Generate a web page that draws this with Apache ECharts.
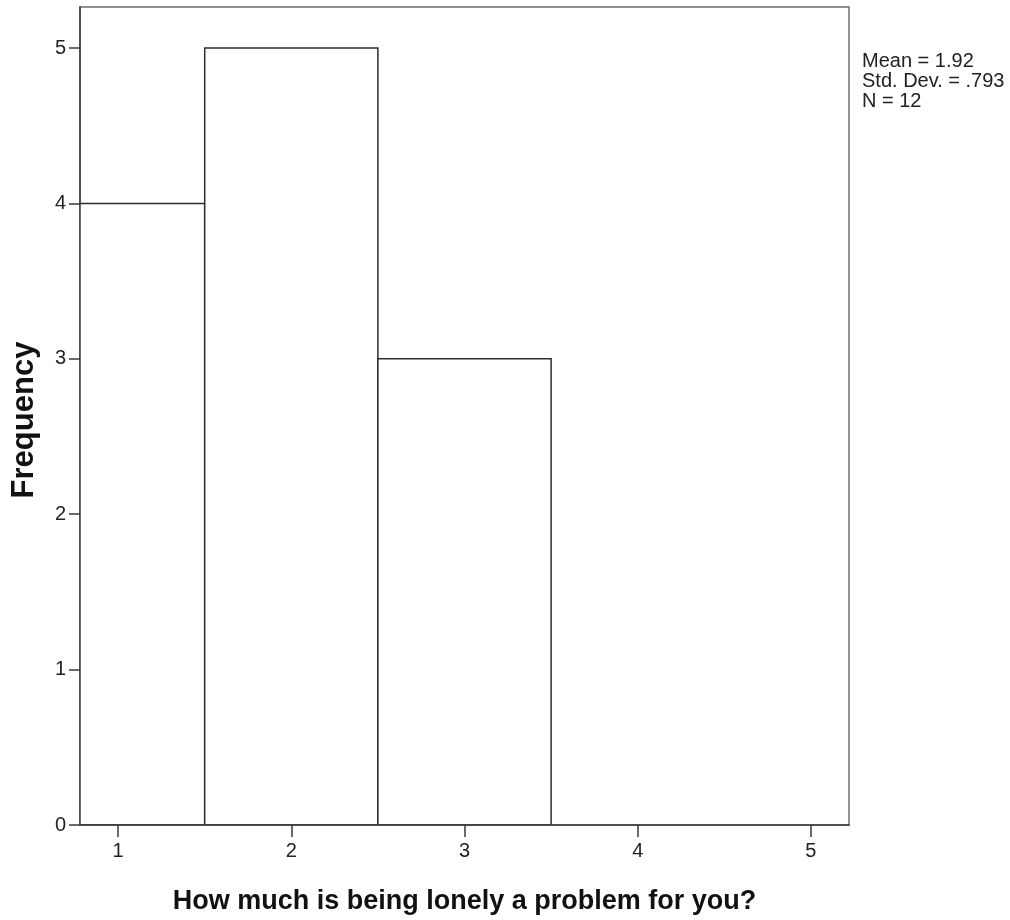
<!DOCTYPE html>
<html>
<head>
<meta charset="utf-8">
<script src="https://cdn.jsdelivr.net/npm/echarts@6/dist/echarts.min.js"></script>
<style>
html,body{margin:0;padding:0;background:#fff;}
#chart{width:1010px;height:920px;}
</style>
</head>
<body>
<div id="chart"></div>
<script>
// Histogram bins (lower edge, upper edge) and frequencies
const binStarts = [0.5, 1.5, 2.5];
const binEnds = [1.5, 2.5, 3.5];
const frequencies = [4, 5, 3];
const xTicks = [1, 2, 3, 4, 5];
const yTicks = [0, 1, 2, 3, 4, 5];
const statsLines = ['Mean = 1.92', 'Std. Dev. = .793', 'N = 12'];
const xTitle = 'How much is being lonely a problem for you?';
const yTitle = 'Frequency';

const FONT = '"Liberation Sans", Arial, sans-serif';
const chart = echarts.init(document.getElementById('chart'), null, {renderer: 'canvas'});

const data = binStarts.map((s, i) => [s, binEnds[i], frequencies[i]]);

chart.setOption({
  animation: false,
  backgroundColor: '#ffffff',
  grid: {
    left: 80, right: 161, top: 7, bottom: 95,
    containLabel: false,
    outerBoundsMode: 'none',
    show: true, borderColor: '#6e6e6e', borderWidth: 1.5, backgroundColor: 'transparent'
  },
  xAxis: {
    type: 'value',
    z: 10,
    min: 0.78, max: 5.22,
    splitLine: {show: false},
    axisLine: {show: true, onZero: false, lineStyle: {color: '#3a3a3a', width: 1.5}},
    axisTick: {show: true, length: 12, customValues: xTicks, lineStyle: {color: '#3a3a3a', width: 1.5}},
    axisLabel: {customValues: xTicks, margin: 16, color: '#222', fontFamily: FONT, fontSize: 20},
    name: xTitle,
    nameLocation: 'middle',
    nameGap: 63,
    nameTextStyle: {fontFamily: FONT, fontWeight: 'bold', fontSize: 27, color: '#111'}
  },
  yAxis: {
    type: 'value',
    z: 10,
    min: 0, max: 5.264,
    splitLine: {show: false},
    axisLine: {show: true, lineStyle: {color: '#3a3a3a', width: 1.5}},
    axisTick: {show: true, length: 11, customValues: yTicks, lineStyle: {color: '#3a3a3a', width: 1.5}},
    axisLabel: {customValues: yTicks, margin: 14, color: '#222', fontFamily: FONT, fontSize: 20},
    name: yTitle,
    nameLocation: 'middle',
    nameRotate: 90,
    nameGap: 40,
    nameTextStyle: {fontFamily: FONT, fontWeight: 'bold', fontSize: 31, color: '#111', padding: [0, 8, 0, 0]}
  },
  graphic: [{
    type: 'text',
    left: 862, top: 51,
    style: {
      text: statsLines.join('\n'),
      font: '20px ' + FONT,
      lineHeight: 20,
      fill: '#222'
    }
  }],
  series: [{
    type: 'custom',
    z: 2,
    clip: true,
    data: data,
    renderItem: function (params, api) {
      const p0 = api.coord([api.value(0), api.value(2)]);
      const p1 = api.coord([api.value(1), 0]);
      return {
        type: 'rect',
        shape: {x: p0[0], y: p0[1], width: p1[0] - p0[0], height: p1[1] - p0[1]},
        style: {fill: '#ffffff', stroke: '#2e2e2e', lineWidth: 1.5}
      };
    }
  }]
});
</script>
</body>
</html>
